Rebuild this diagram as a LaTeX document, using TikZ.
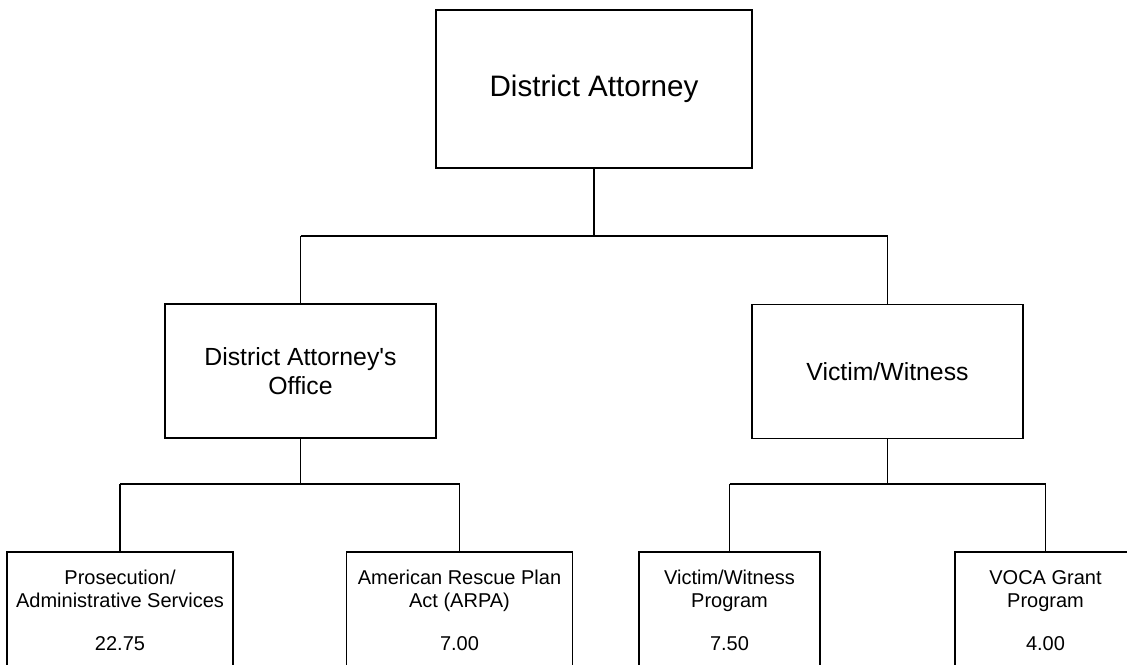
\documentclass[tikz,border=0pt]{standalone}
\usepackage{fontspec}
\setmainfont{Liberation Sans}
\usepackage{tikz}
\usetikzlibrary{calc}
\tikzstyle{topbox}=[rectangle,draw=black,line width=1.2pt,align=center,
  minimum width=237pt,minimum height=118.5pt,font=\fontsize{22.2}{26}\selectfont]
\tikzstyle{midbox}=[rectangle,draw=black,line width=1.2pt,align=center,
  minimum width=203.25pt,minimum height=100.5pt,font=\fontsize{18.6}{21.75}\selectfont]
\tikzstyle{unitbox}=[rectangle,draw=black,line width=1.2pt,align=center,
  minimum width=169.5pt,minimum height=87pt,font=\fontsize{15}{17.25}\selectfont]
\tikzstyle{thin}=[line width=0.7pt]
\tikzstyle{none}=[]

\begin{document}
\begin{tikzpicture}[x=0.75pt,y=-0.75pt,line width=1.2pt]
            \clip (0, 0) rectangle (1127, 664);
            \node [style=topbox] (0) at (594, 89) {District Attorney};
            \node [style=midbox] (1) at (300.5, 371) {District Attorney\textquotesingle s\\Office};
            \node [style=midbox] (2) at (887.5, 371.5) {Victim/Witness};
            \node [style=unitbox] (3) at (120, 610) {Prosecution/\\Administrative Services\\[15pt]22.75};
            \node [style=unitbox] (4) at (459.5, 610) {American Rescue Plan\\Act (ARPA)\\[15pt]7.00};
            \node [style=unitbox, minimum width=135.75pt] (5) at (729.5, 610) {Victim/Witness\\Program\\[15pt]7.50};
            \node [style=unitbox, minimum width=135.75pt] (6) at (1045.5, 610) {\vphantom{/}VOCA Grant\\Program\\[15pt]4.00};
            \node [style=none] (7) at (594, 236) {};
            \node [style=none] (8) at (300.5, 236) {};
            \node [style=none] (9) at (887.5, 236) {};
            \node [style=none] (10) at (300.5, 484) {};
            \node [style=none] (11) at (120, 484) {};
            \node [style=none] (12) at (459.5, 484) {};
            \node [style=none] (13) at (887.5, 484) {};
            \node [style=none] (14) at (729.5, 484) {};
            \node [style=none] (15) at (1045.5, 484) {};
            \draw (0) to (7.center);
            \draw (8.center) to (9.center);
            \draw (8.center) to (1);
            \draw (9.center) to (2);
            \draw (1) to (10.center);
            \draw (11.center) to (12.center);
            \draw (11.center) to (3);
            \draw [style=thin] (12.center) to (4);
            \draw (2) to (13.center);
            \draw (14.center) to (15.center);
            \draw (14.center) to (5);
            \draw (15.center) to (6);
    \end{tikzpicture}
\end{document}
